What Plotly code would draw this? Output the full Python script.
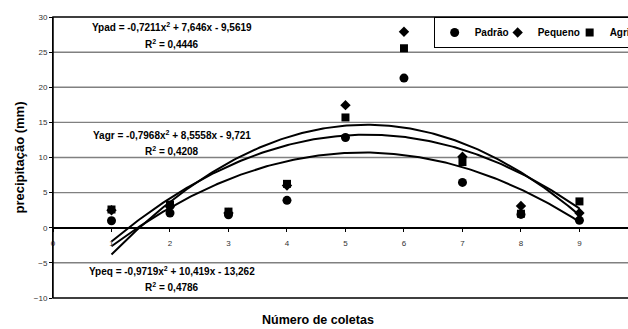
import numpy as np
import plotly.graph_objects as go

coletas = [1, 2, 3, 4, 5, 6, 7, 8, 9]
padrao = [1.0, 2.1, 1.85, 3.9, 12.85, 21.3, 6.45, 1.9, 1.05]
pequeno = [2.5, 3.0, 2.1, 6.0, 17.45, 27.9, 10.1, 3.1, 2.1]
agricultor = [2.6, 3.3, 2.3, 6.25, 15.7, 25.55, 9.35, 2.0, 3.75]

# printed trendline coefficients (a, b, c) of a*x^2 + b*x + c
coef_pad = [-0.7211, 7.646, -9.5619]
coef_peq = [-0.9719, 10.419, -13.262]
coef_agr = [-0.7968, 8.5558, -9.721]

x_ticks = [0, 1, 2, 3, 4, 5, 6, 7, 8, 9]
y_ticks = [-10, -5, 0, 5, 10, 15, 20, 25, 30]

FONT = "Liberation Sans, Arial, sans-serif"
GRID = "#808080"

fig = go.Figure()

# horizontal grid lines at the y tick values
for v in y_ticks[1:-1]:
    if v != 0:
        fig.add_hline(y=v, line=dict(color=GRID, width=1.3), layer="below")

xs = np.linspace(coletas[0], coletas[-1], 200)
for coef in (coef_pad, coef_agr, coef_peq):
    fig.add_trace(go.Scatter(x=xs, y=np.polyval(coef, xs), mode="lines",
                             line=dict(color="black", width=2),
                             showlegend=False, hoverinfo="skip"))

fig.add_trace(go.Scatter(x=coletas, y=padrao, mode="markers", name="Padrão",
                         legendwidth=18,
                         marker=dict(symbol="circle", size=9, color="black")))
fig.add_trace(go.Scatter(x=coletas, y=pequeno, mode="markers", name="Pequeno",
                         legendwidth=27,
                         marker=dict(symbol="diamond", size=8, color="black")))
fig.add_trace(go.Scatter(x=coletas, y=agricultor, mode="markers", name="Agricultor",
                         legendwidth=30,
                         marker=dict(symbol="square", size=8, color="black")))

ann_style = dict(xref="x", yref="y", showarrow=False,
                 font=dict(family=FONT, size=10, color="black"))
fig.add_annotation(x=2.03, y=28.6, text="<b>Ypad = -0,7211x<sup>2</sup> + 7,646x - 9,5619</b>", **ann_style)
fig.add_annotation(x=2.03, y=26.2, text="<b>R<sup>2</sup> = 0,4446</b>", **ann_style)
fig.add_annotation(x=2.03, y=13.2, text="<b>Yagr = -0,7968x<sup>2</sup> + 8,5558x - 9,721</b>", **ann_style)
fig.add_annotation(x=2.03, y=10.9, text="<b>R<sup>2</sup> = 0,4208</b>", **ann_style)
fig.add_annotation(x=2.03, y=-6.1, text="<b>Ypeq = -0,9719x<sup>2</sup> + 10,419x - 13,262</b>", **ann_style)
fig.add_annotation(x=2.03, y=-8.5, text="<b>R<sup>2</sup> = 0,4786</b>", **ann_style)

fig.add_annotation(x=0, y=0.5, xref="paper", yref="paper", xshift=-34, showarrow=False,
                   xanchor="center", yanchor="middle",
                   text="<b>precipitação (mm)</b>", textangle=-90,
                   font=dict(family=FONT, size=13, color="black"))
fig.add_annotation(x=0.46, y=0, xref="paper", yref="paper", yshift=-22, showarrow=False,
                   xanchor="center", yanchor="middle",
                   text="<b>Número de coletas</b>",
                   font=dict(family=FONT, size=12.5, color="black"))

fig.add_shape(type="rect", xref="paper", yref="paper", x0=0, x1=1.02, y0=0, y1=1,
              line=dict(color="black", width=1.5), layer="above")

fig.update_layout(
    width=628, height=329,
    margin=dict(l=53, r=0, t=17, b=31, autoexpand=False),
    paper_bgcolor="white", plot_bgcolor="white",
    font=dict(family=FONT, color="#333333"),
    legend=dict(orientation="h", x=0.662, y=1, xanchor="left", yanchor="top",
                bordercolor="black", borderwidth=1, bgcolor="white",
                font=dict(family=FONT, size=10, color="black", weight="bold"),
                itemwidth=30, tracegroupgap=0),
    xaxis=dict(range=[0, 9.83], showgrid=False, zeroline=False, showticklabels=False,
               ticks=""),
    xaxis2=dict(range=[0, 9.83], tickvals=x_ticks, overlaying="x", matches="x",
                anchor="free", position=0.25, side="bottom", showgrid=False,
                zeroline=False, showline=False,
                ticks="outside", ticklen=3, tickcolor="black", ticklabelstandoff=5,
                tickfont=dict(family=FONT, size=8, color="#333333")),
    yaxis=dict(range=[-10, 30], tickvals=y_ticks, showgrid=True, gridcolor=GRID,
               gridwidth=1.3, zeroline=True, zerolinecolor="black", zerolinewidth=1.5,
               showline=True, linecolor="black",
               ticks="outside", ticklen=3, tickcolor="black",
               tickfont=dict(family=FONT, size=8, color="#333333")),
)
# invisible trace so the tick-label axis at y = 0 is drawn
fig.add_trace(go.Scatter(x=[coletas[0]], y=[padrao[0]], xaxis="x2", mode="markers",
                         marker=dict(opacity=0), showlegend=False, hoverinfo="skip"))

fig.write_html("out.html", config={"displayModeBar": False},
               post_script="document.body.style.margin='0';")
